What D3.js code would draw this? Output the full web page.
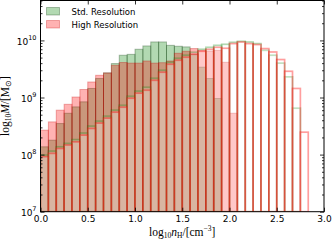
<!DOCTYPE html>
<html>
<head>
<meta charset="utf-8">
<script src="https://cdn.jsdelivr.net/npm/d3@7"></script>
<style>
html, body { margin: 0; padding: 0; background: #fff; }
svg { display: block; }
</style>
</head>
<body>
<div id="vis"></div>
<script>
// histogram bins in log10 n_H, width 1/12 dex starting at 0
var binStart = 0, binStep = 1 / 12, binCount = 34;

// filled histograms (only the low-density part is filled)
var stdFilled = [1.37e8, 1.79e8, 3.5e8, 5.3e8, 6.85e8, 8.4e8, 1.44e9, 2.15e9, 2.7e9, 3.93e9,
                 5.5e9, 5.7e9, 7.0e9, 8.0e9, 9.4e9, 9.4e9, 8.2e9, 7.9e9, 7.7e9, 5.7e9,
                 3.4e9, 2.15e9, 9.6e8];
var highFilled = [2.68e8, 3.74e8, 6.0e8, 7.6e8, 1.02e9, 1.38e9, 1.87e9, 2.45e9, 2.69e9, 3.67e9,
                  4.1e9, 4.0e9, 4.0e9, 4.36e9, 4.0e9, 4.07e9, 4.36e9, 5.95e9, 6.45e9, 7.2e9,
                  6.7e9, 6.5e9, 6.7e9, 4.14e9, 5.3e8];

// outline histograms over the full density range
var stdOutline = [9.8e7, 1.15e8, 1.37e8, 1.57e8, 1.83e8, 2.38e8, 3.15e8, 3.85e8, 4.7e8, 6.0e8,
                  7.3e8, 1.05e9, 1.29e9, 1.51e9, 2.17e9, 3.0e9, 4.14e9, 4.86e9, 5.5e9, 6.2e9,
                  7.0e9, 7.57e9, 8.2e9, 8.55e9, 9.27e9, 9.64e9, 9.38e9, 8.79e9, 6.7e9, 5.5e9,
                  4.0e9, 2.3e9, 6.5e8];
var highOutline = [9.2e7, 1.05e8, 1.28e8, 1.47e8, 1.67e8, 2.19e8, 2.87e8, 3.56e8, 4.35e8, 5.53e8,
                   6.76e8, 9.7e8, 1.19e9, 1.34e9, 2.0e9, 2.77e9, 3.82e9, 4.49e9, 5.07e9, 5.71e9,
                   6.45e9, 6.98e9, 7.57e9, 7.28e9, 8.79e9, 9.38e9, 8.79e9, 8.45e9, 7.19e9, 6.27e9,
                   4.62e9, 2.88e9, 1.44e9, 2.47e8];

var xTicks = [0, 0.5, 1, 1.5, 2, 2.5, 3];
var yTicks = [1e7, 1e8, 1e9, 1e10];
var legendLabels = ['Std. Resolution', 'High Resolution'];

var margin = {left: 40.5, right: 9, top: 0.5, bottom: 28.3};
var width = 333 - margin.left - margin.right;
var height = 240 - margin.top - margin.bottom;

var edges = d3.range(binCount + 1).map(k => binStart + k * binStep);

var svg = d3.select('#vis')
    .append('svg')
        .attr('width', 333)
        .attr('height', 240)
    .append('g')
        .attr('transform', 'translate(' + margin.left + ',' + margin.top + ')');

var x = d3.scaleLinear().domain([0, 3]).range([0, width]);
var y = d3.scaleLog().domain([1e7, 5e10]).range([height, 0]);

svg.append('clipPath').attr('id', 'clip')
    .append('rect').attr('width', width).attr('height', height);
var plot = svg.append('g').attr('clip-path', 'url(#clip)');

var hist = (values, fill, fillOpacity, stroke, strokeOpacity, strokeWidth) => {
    plot.append('g')
        .selectAll('rect')
        .data(values.map((v, i) => ({v: v, i: i})))
        .enter()
        .append('rect')
            .attr('x', d => x(edges[d.i]))
            .attr('width', d => x(edges[d.i + 1]) - x(edges[d.i]))
            .attr('y', d => y(d.v))
            .attr('height', d => height - y(d.v))
            .attr('fill', fill)
            .attr('fill-opacity', fillOpacity)
            .attr('stroke', stroke)
            .attr('stroke-opacity', strokeOpacity)
            .attr('stroke-width', strokeWidth);
}

hist(stdFilled, 'rgb(0,128,0)', 0.3, 'rgb(0,50,0)', 0.3, 1);
hist(highFilled, 'rgb(255,0,0)', 0.3, 'rgb(200,0,0)', 0.3, 1);
hist(stdOutline, '#fff', 0.12, 'rgb(0,128,0)', 0.3, 1.7);
hist(highOutline, '#fff', 0.2, 'rgb(255,0,0)', 0.38, 1.7);

// axes, ticks inside on all four sides
var minorTicks = [];
yTicks.forEach(t => d3.range(2, 10).forEach(m => { if (t * m <= 5e10) minorTicks.push(t * m); }));

var styleAxis = g => {
    g.select('.domain').remove();
    g.selectAll('.tick line').attr('stroke', '#000').attr('stroke-width', 0.8);
    g.selectAll('.tick text').attr('fill', '#000');
    g.attr('font-family', '"DejaVu Sans", sans-serif').attr('font-size', 9);
}

svg.append('g')
    .attr('transform', 'translate(0,' + height + ')')
    .call(d3.axisBottom(x).tickValues(xTicks).tickSize(-4).tickPadding(4).tickFormat(d3.format('.1f')))
    .call(styleAxis);
svg.append('g')
    .call(d3.axisTop(x).tickValues(xTicks).tickSize(-4).tickFormat(''))
    .call(styleAxis);

var left = svg.append('g')
    .call(d3.axisLeft(y).tickValues(yTicks).tickSize(-4).tickPadding(4).tickFormat(''))
    .call(styleAxis);
left.selectAll('.tick text')
    .attr('dy', '0.45em')
    .each(function(d) {
        var t = d3.select(this);
        t.append('tspan').text('10');
        t.append('tspan').attr('dy', -5).attr('font-size', 6.5).text(Math.round(Math.log10(d)));
    });
svg.append('g')
    .call(d3.axisLeft(y).tickValues(minorTicks).tickSize(-2).tickFormat(''))
    .call(styleAxis);
svg.append('g')
    .attr('transform', 'translate(' + width + ',0)')
    .call(d3.axisRight(y).tickValues(yTicks).tickSize(-4).tickFormat(''))
    .call(styleAxis);
svg.append('g')
    .attr('transform', 'translate(' + width + ',0)')
    .call(d3.axisRight(y).tickValues(minorTicks).tickSize(-2).tickFormat(''))
    .call(styleAxis);

svg.append('rect')
    .attr('width', width)
    .attr('height', height)
    .attr('fill', 'none')
    .attr('stroke', '#000')
    .attr('stroke-width', 1);

// legend
var legend = svg.append('g').attr('transform', 'translate(6,7)');
var swatch = [
    {fill: 'rgb(0,128,0)', stroke: 'rgb(0,50,0)'},
    {fill: 'rgb(255,0,0)', stroke: 'rgb(200,0,0)'}
];
legendLabels.forEach((label, i) => {
    legend.append('rect')
        .attr('x', 0).attr('y', i * 13)
        .attr('width', 13).attr('height', 7.5)
        .attr('fill', swatch[i].fill).attr('fill-opacity', 0.3)
        .attr('stroke', swatch[i].stroke).attr('stroke-opacity', 0.3);
    legend.append('text')
        .attr('x', 25).attr('y', i * 13 + 7)
        .attr('font-family', '"DejaVu Sans", sans-serif')
        .attr('font-size', 8.5)
        .text(label);
});

// axis labels
var xlab = svg.append('text')
    .attr('x', width / 2)
    .attr('y', height + 24)
    .attr('text-anchor', 'middle')
    .attr('font-family', '"Liberation Serif", serif')
    .attr('font-size', 11.5);
xlab.append('tspan').text('log');
xlab.append('tspan').attr('font-size', 7.5).attr('dy', 2.5).text('10');
xlab.append('tspan').attr('font-style', 'italic').attr('dy', -2.5).text('n');
xlab.append('tspan').attr('font-size', 7.5).attr('dy', 2.5).text('H');
xlab.append('tspan').attr('dy', -2.5).text('/[cm');
xlab.append('tspan').attr('font-size', 7.5).attr('dy', -4.5).text('\u22123');
xlab.append('tspan').attr('dy', 4.5).text(']');

var ylab = svg.append('text')
    .attr('transform', 'translate(' + (-32) + ',' + (height / 2) + ') rotate(-90)')
    .attr('text-anchor', 'middle')
    .attr('font-family', '"Liberation Serif", serif')
    .attr('font-size', 11.5);
ylab.append('tspan').text('log');
ylab.append('tspan').attr('font-size', 7.5).attr('dy', 2.5).text('10');
ylab.append('tspan').attr('font-style', 'italic').attr('dy', -2.5).text('M');
ylab.append('tspan').text('/[M');
ylab.append('tspan').attr('font-size', 7.5).attr('dy', 2.5).text('\u2299');
ylab.append('tspan').attr('dy', -2.5).text(']');
</script>
</body>
</html>
